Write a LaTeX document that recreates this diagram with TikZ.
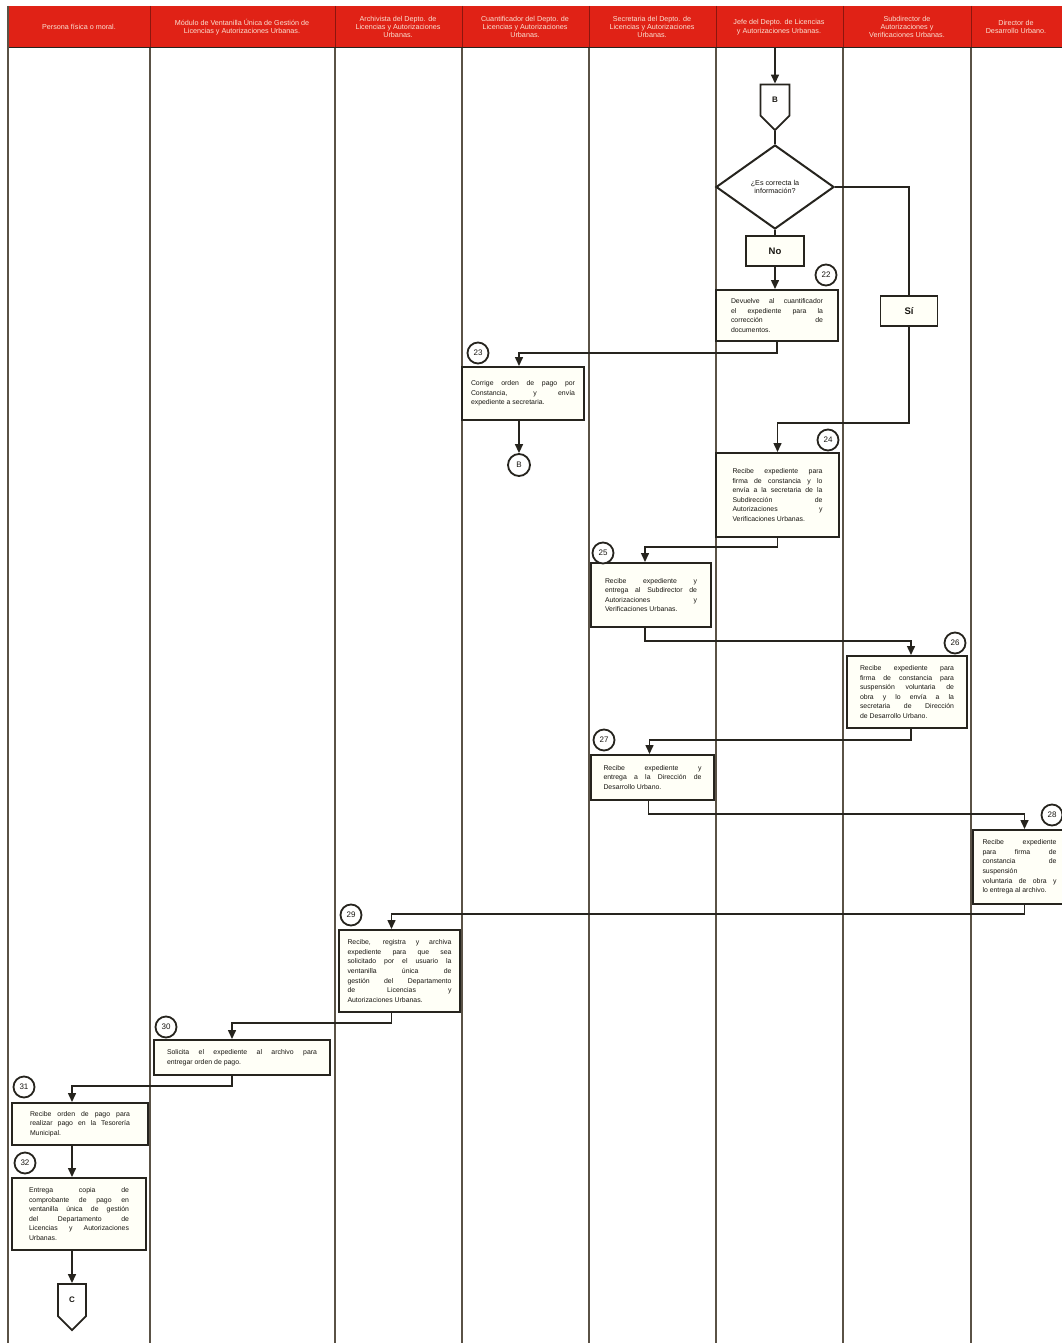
\documentclass[tikz,border=0pt]{standalone}
\usepackage{fontspec}
\setmainfont{Liberation Sans}
\usetikzlibrary{arrows.meta,shapes.geometric,shapes.symbols,calc}
\definecolor{headred}{RGB}{224,34,22}
\definecolor{headsep}{RGB}{140,22,14}
\definecolor{lanec}{RGB}{90,82,70}
\definecolor{inkc}{RGB}{38,36,30}
\definecolor{boxfill}{RGB}{255,255,247}
\definecolor{txtc}{RGB}{25,23,18}
\definecolor{headtxt}{RGB}{250,225,210}
\begin{document}
\begin{tikzpicture}[x=1pt,y=-1pt,
  lane/.style={draw=lanec, line width=1.2pt},
  head/.style={align=center, text=headtxt, font=\fontsize{7.2}{8.4}\selectfont, inner sep=0pt},
  box/.style={draw=inkc, line width=2pt, fill=boxfill, align=justify, text=txtc,
    font=\fontsize{6.9}{9.6}\selectfont, inner xsep=0pt, inner ysep=3pt},
  num/.style={circle, draw=inkc, line width=1.8pt, fill=white, minimum size=21pt, inner sep=0pt,
    font=\fontsize{8}{8}\selectfont, text=txtc},
  lbl/.style={draw=inkc, line width=1.6pt, fill=boxfill, inner sep=0pt,
    font=\bfseries\fontsize{9.5}{10}\selectfont, text=txtc},
  dec/.style={diamond, draw=inkc, line width=2pt, fill=white, inner sep=0pt, align=center,
    font=\fontsize{7.2}{8.8}\selectfont, text=txtc},
  offpage/.style={signal, signal to=south, signal pointer angle=90, draw=inkc, line width=1.8pt,
    fill=white, inner sep=0pt, font=\bfseries\fontsize{8}{8}\selectfont, text=txtc},
  flow/.style={draw=inkc, line width=1.5pt, -{Triangle[length=9pt,width=8pt]}},
  link/.style={draw=inkc, line width=1.5pt}
]
\useasboundingbox (0,0) rectangle (1062,1343);
\fill[white] (0,0) rectangle (1062,1343);
% header band
\fill[headred] (8,6) rectangle (1062,48);
\foreach \x in {150,335,462,589,716,843,971} \draw[headsep, line width=0.8pt] (\x,6) -- (\x,48);
\draw[inkc, line width=1pt] (8,48) -- (1062,48);
% lanes
\draw[lane] (8,6) -- (8,1343);
\foreach \x in {150,335,462,589,716,843,971} \draw[lane] (\x,48) -- (\x,1343);
% headers
\node[head] (h1) at (79,27) {Persona física o moral.};
\node[head] (h2) at (242,27) {Módulo de Ventanilla Única de Gestión de\\Licencias y Autorizaciones Urbanas.};
\node[head] (h3) at (398,27) {Archivista del Depto. de\\Licencias y Autorizaciones\\Urbanas.};
\node[head] (h4) at (525,27) {Cuantificador del Depto. de\\Licencias y Autorizaciones\\Urbanas.};
\node[head] (h5) at (652,27) {Secretaria del Depto. de\\Licencias y Autorizaciones\\Urbanas.};
\node[head] (h6) at (779,27) {Jefe del Depto. de Licencias\\y Autorizaciones Urbanas.};
\node[head] (h7) at (907,27) {Subdirector de\\Autorizaciones y\\Verificaciones Urbanas.};
\node[head] (h8) at (1016,27) {Director de\\Desarrollo Urbano.};
% nodes
\coordinate (topin) at (775,48);
\node[offpage, minimum width=29pt, minimum height=34pt] (B) at (775,100) {B};
\node[dec, minimum width=118pt, minimum height=84pt] (d1) at (775,187) {¿Es correcta la\\información?};
\node[lbl, minimum width=58pt, minimum height=30pt] (no) at (775,251) {No};
\node[lbl, minimum width=57pt, minimum height=30pt] (si) at (909,311) {Sí};

\node[box, minimum width=122pt, minimum height=51pt, text width=92pt] (b22) at (777,315.5)
 {Devuelve al cuantificador\linebreak el expediente para la\linebreak corrección de\linebreak documentos.};
\node[num] (n22) at (826,275) {22};

\node[box, minimum width=122pt, minimum height=53pt, text width=104pt] (b23) at (523,393.5)
 {Corrige orden de pago por\linebreak Constancia, y envía\linebreak expediente a secretaria.};
\node[num] (n23) at (478,353) {23};
\node[num, minimum size=22pt] (Bc) at (519,465) {B};

\node[box, minimum width=123pt, minimum height=84pt, text width=90pt] (b24) at (777.5,495)
 {Recibe expediente para\linebreak firma de constancia y lo\linebreak envía a la secretaria de la\linebreak Subdirección de\linebreak Autorizaciones y\linebreak Verificaciones Urbanas.};
\node[num] (n24) at (828,440) {24};

\node[box, minimum width=120pt, minimum height=64pt, text width=92pt] (b25) at (651,595)
 {Recibe expediente y\linebreak entrega al Subdirector de\linebreak Autorizaciones y\linebreak Verificaciones Urbanas.};
\node[num] (n25) at (603,553) {25};

\node[box, minimum width=120pt, minimum height=72pt, text width=94pt] (b26) at (907,692)
 {Recibe expediente para\linebreak firma de constancia para\linebreak suspensión voluntaria de\linebreak obra y lo envía a la\linebreak secretaria de Dirección\linebreak de Desarrollo Urbano.};
\node[num] (n26) at (955,643) {26};

\node[box, minimum width=123pt, minimum height=45pt, text width=98pt] (b27) at (652.5,777.5)
 {Recibe expediente y\linebreak entrega a la Dirección de\linebreak Desarrollo Urbano.};
\node[num] (n27) at (604,740) {27};

\node[box, minimum width=93pt, minimum height=74pt, text width=74pt] (b28) at (1019.5,867)
 {Recibe expediente\linebreak para firma de\linebreak constancia de\linebreak suspensión\linebreak voluntaria de obra y\linebreak lo entrega al archivo.};
\node[num] (n28) at (1052,815) {28};

\node[box, minimum width=121pt, minimum height=82pt, text width=104pt] (b29) at (399.5,971)
 {Recibe, registra y archiva\linebreak expediente para que sea\linebreak solicitado por el usuario la\linebreak ventanilla única de\linebreak gestión del Departamento\linebreak de Licencias y\linebreak Autorizaciones Urbanas.};
\node[num] (n29) at (351,915) {29};

\node[box, minimum width=176pt, minimum height=35pt, text width=150pt] (b30) at (242,1057.5)
 {Solicita el expediente al archivo para\linebreak entregar orden de pago.};
\node[num] (n30) at (166,1027) {30};

\node[box, minimum width=136pt, minimum height=42pt, text width=100pt] (b31) at (80,1124)
 {Recibe orden de pago para\linebreak realizar pago en la Tesorería\linebreak Municipal.};
\node[num] (n31) at (24,1087) {31};

\node[box, minimum width=134pt, minimum height=72pt, text width=100pt] (b32) at (79,1214)
 {Entrega copia de\linebreak comprobante de pago en\linebreak ventanilla única de gestión\linebreak del Departamento de\linebreak Licencias y Autorizaciones\linebreak Urbanas.};
\node[num] (n32) at (25,1163) {32};

\node[offpage, minimum width=28pt, minimum height=35pt] (C) at (72,1300) {C};

% connectors
\draw[flow] (topin) -- (B.north);
\draw[link] (B.south) -- (d1.north);
\draw[link] (d1.south) -- (no.north);
\draw[flow] (no.south) -- (no.south |- b22.north);
\draw[link] (d1.east) -| (si.north);
\draw[flow] (si.south) -- ++(0,96) -| (b24.north);
\draw[flow] (b22.south) -- ++(0,11) -| ($(b23.north)+(-4,0)$);
\draw[flow] ($(b23.south)+(-4,0)$) -- (Bc.north);
\draw[flow] (b24.south) -- ++(0,9) -| ($(b25.north)+(-6,0)$);
\draw[flow] ($(b25.south)+(-6,0)$) -- ++(0,13) -| ($(b26.north)+(4,0)$);
\draw[flow] ($(b26.south)+(4,0)$) -- ++(0,11) -| ($(b27.north)+(-3,0)$);
\draw[flow] ($(b27.south)+(-4,0)$) -- ++(0,13) -| ($(b28.north)+(5,0)$);
\draw[flow] ($(b28.south)+(5,0)$) -- ++(0,9) -| ($(b29.north)+(-8,0)$);
\draw[flow] ($(b29.south)+(-8,0)$) -- ++(0,10) -| ($(b30.north)+(-10,0)$);
\draw[flow] ($(b30.south)+(-10,0)$) -- ++(0,10) -| (C.north |- b31.north);
\draw[flow] (C.north |- b31.south) -- (C.north |- b32.north);
\draw[flow] (C.north |- b32.south) -- (C.north);
\end{tikzpicture}
\end{document}
